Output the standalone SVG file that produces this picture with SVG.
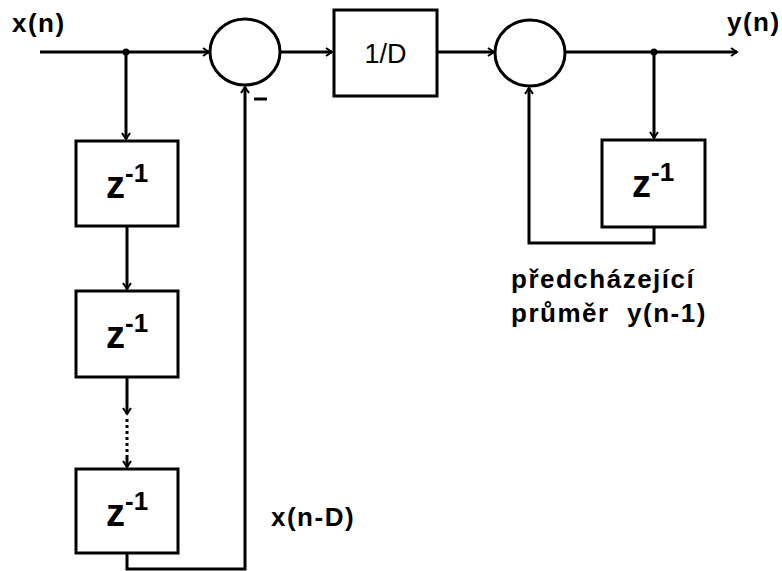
<svg xmlns="http://www.w3.org/2000/svg" width="782" height="571" viewBox="0 0 782 571">
<style>
.ln{fill:none;stroke:#000;stroke-width:3}
.bx{fill:#fff;stroke:#000;stroke-width:3}
.lbl{font-family:"Liberation Sans",Arial,sans-serif;font-weight:bold;font-size:26px;letter-spacing:1.5px;fill:#000}
.z{font-family:"Liberation Sans",Arial,sans-serif;font-size:38px;font-weight:bold;fill:#000}
.sup{font-family:"Liberation Sans",Arial,sans-serif;font-size:26px;font-weight:bold;fill:#000}
.blk{font-family:"Liberation Sans",Arial,sans-serif;font-size:27px;fill:#000}
</style>
<defs>
<marker id="ar" markerWidth="10" markerHeight="10" refX="7" refY="5" orient="auto" markerUnits="userSpaceOnUse">
<polyline points="1,1 7,5 1,9" fill="none" stroke="#000" stroke-width="2"/>
</marker>
</defs>
<rect width="782" height="571" fill="#fff"/>
<g id="connectors">
<line class="ln" x1="40" y1="52" x2="209" y2="52" marker-end="url(#ar)"/>
<circle cx="126" cy="52" r="3.5" fill="#000"/>
<line class="ln" x1="126" y1="52" x2="126" y2="139" marker-end="url(#ar)"/>
<line class="ln" x1="127" y1="226" x2="127" y2="289" marker-end="url(#ar)"/>
<line class="ln" x1="127" y1="377" x2="127" y2="414" marker-end="url(#ar)"/>
<line class="ln" x1="127" y1="419" x2="127" y2="460" stroke-dasharray="3,3"/>
<line class="ln" x1="127" y1="458" x2="127" y2="467" marker-end="url(#ar)"/>
<polyline class="ln" points="127,553 127,569 245,569 245,87" marker-end="url(#ar)"/>
<line class="ln" x1="280" y1="52" x2="332" y2="52" marker-end="url(#ar)"/>
<line class="ln" x1="437" y1="52" x2="494" y2="52" marker-end="url(#ar)"/>
<line class="ln" x1="565" y1="52" x2="737" y2="52" marker-end="url(#ar)"/>
<circle cx="654" cy="52" r="3.5" fill="#000"/>
<line class="ln" x1="654" y1="52" x2="654" y2="138" marker-end="url(#ar)"/>
<polyline class="ln" points="654,227 654,243 529,243 529,88" marker-end="url(#ar)"/>
<line x1="254" y1="99" x2="267" y2="99" stroke="#000" stroke-width="3"/>
</g>
<g id="sum1"><ellipse class="bx" cx="245" cy="52" rx="35" ry="33"/></g>
<g id="scale"><rect class="bx" x="334" y="10" width="103" height="86"/><text class="blk" x="385.5" y="63" text-anchor="middle">1/D</text></g>
<g id="sum2"><ellipse class="bx" cx="530" cy="53" rx="35" ry="33"/></g>
<g id="delay1"><rect class="bx" x="76" y="141" width="102" height="85"/><text x="106" y="198"><tspan class="z">z</tspan><tspan class="sup" dy="-16">-1</tspan></text></g>
<g id="delay2"><rect class="bx" x="76" y="291" width="102" height="86"/><text x="106" y="348"><tspan class="z">z</tspan><tspan class="sup" dy="-16">-1</tspan></text></g>
<g id="delay3"><rect class="bx" x="76" y="469" width="102" height="84"/><text x="106" y="526"><tspan class="z">z</tspan><tspan class="sup" dy="-16">-1</tspan></text></g>
<g id="delay4"><rect class="bx" x="602" y="140" width="103" height="87"/><text x="632" y="197"><tspan class="z">z</tspan><tspan class="sup" dy="-16">-1</tspan></text></g>
<g id="labels">
<text class="lbl" x="12" y="32">x(n)</text>
<text class="lbl" x="727" y="31">y(n)</text>
<text class="lbl" x="271" y="526">x(n-D)</text>
<text class="lbl" x="511" y="288">předcházející</text>
<text class="lbl" x="511" y="322" xml:space="preserve">průměr  y(n-1)</text>
</g>
</svg>
